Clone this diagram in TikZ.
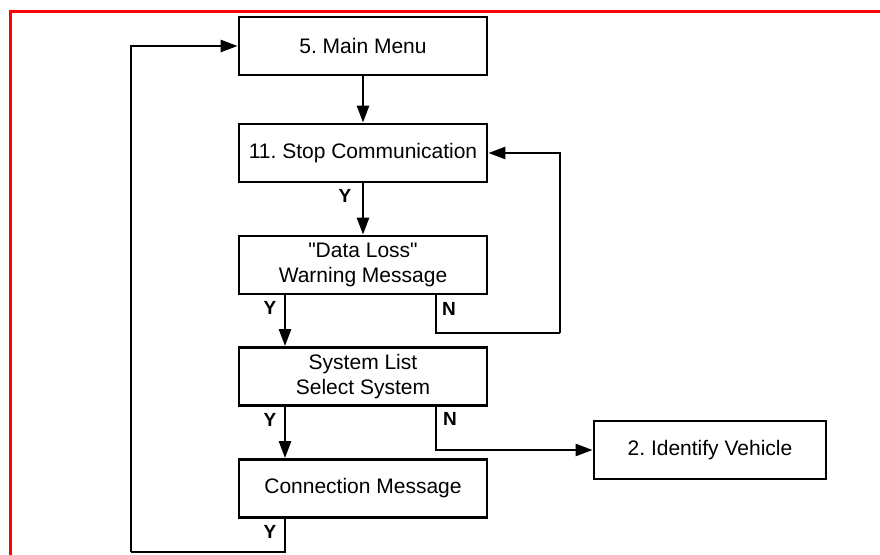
\documentclass[tikz,border=0pt]{standalone}
\usepackage{fontspec}
\setmainfont{Liberation Sans}[Ligatures=TeXOff]
\usetikzlibrary{arrows.meta}

\tikzset{
  box/.style={draw,line width=2.8pt,minimum width=248pt,minimum height=58pt,
    align=center,inner sep=0pt,font=\fontsize{21}{25}\selectfont},
  flow/.style={line width=2.6pt,-{Triangle[length=17pt,width=12pt]}},
  link/.style={line width=2.6pt},
  lab/.style={font=\fontsize{19}{21}\selectfont\bfseries,inner sep=0pt}
}

\begin{document}
\frenchspacing
\begin{tikzpicture}[x=1pt,y=-1pt]
%\draw[help lines] (0,0) grid (880,554);
\useasboundingbox (0,0) rectangle (880,554);
%% Frame
\draw[red,line width=3pt] (10,560) -- (10,11) -- (890,11);

%% Boxes
\node[box] (mainmenu) at (363,46) {5. Main Menu};
\node[box] (stopcomm) at (363,153) {11. Stop Communication};
\node[box] (dataloss) at (363,265) {"Data Loss"\\Warning Message};
\node[box] (syslist) at (363,376.5) {System List\\Select System};
\node[box] (connmsg) at (363,488.5) {Connection Message};
\node[box,minimum width=232pt] (identify) at (710,450) {2. Identify Vehicle};

%% Turning points
\coordinate (yx) at (285,0);
\coordinate (nx) at (436,0);
\coordinate (loopR) at (560,333);
\coordinate (loopL) at (131,552);

%% Connectors
\draw[flow] (mainmenu) -- (stopcomm);
\draw[flow] (stopcomm) -- (dataloss);
\draw[flow] (dataloss.south -| yx) -- (syslist.north -| yx);
\draw[link] (dataloss.south -| nx) |- (loopR);
\draw[flow] (loopR) |- (stopcomm.east);
\draw[flow] (syslist.south -| yx) -- (connmsg.north -| yx);
\draw[flow] (syslist.south -| nx) |- (identify.west);
\draw[link] (connmsg.south -| yx) |- (loopL);
\draw[flow] (loopL) |- (mainmenu.west);

%% Y / N
\node[lab] (y1) at (345,196) {Y};
\node[lab] (y2) at (270,308) {Y};
\node[lab] (n1) at (449,309) {N};
\node[lab] (y3) at (270,420) {Y};
\node[lab] (n2) at (450,419) {N};
\node[lab] (y4) at (270,532) {Y};
\end{tikzpicture}
\end{document}
